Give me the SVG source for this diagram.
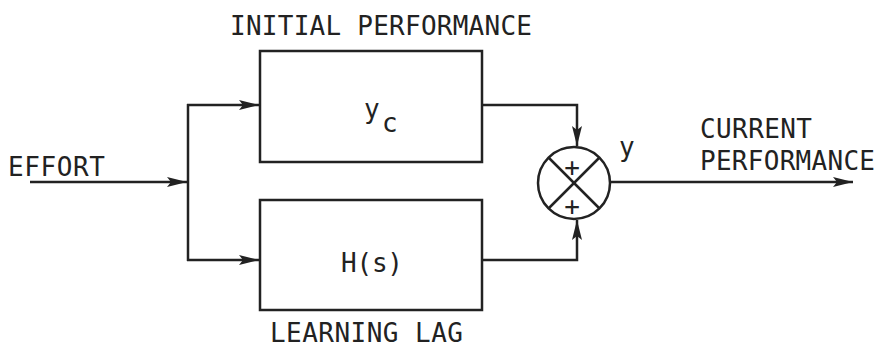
<svg xmlns="http://www.w3.org/2000/svg" width="883" height="351" viewBox="0 0 883 351">
<style>
.ln{fill:none;stroke:#222;stroke-width:2.5}
.bx{fill:none;stroke:#222;stroke-width:2.5}
.t{font-family:"DejaVu Sans Mono","Liberation Mono",monospace;font-size:26px;fill:#222}
</style>
<defs>
<marker id="ah" viewBox="0 0 20 10" refX="20" refY="5" markerWidth="20" markerHeight="10" markerUnits="userSpaceOnUse" orient="auto">
<path d="M0,0 L20,5 L0,10 L4,5 Z" fill="#222"/>
</marker>
</defs>
<rect width="883" height="351" fill="#fff"/>
<g id="connectors">
<line class="ln" x1="30" y1="182" x2="187" y2="182" marker-end="url(#ah)"/>
<line class="ln" x1="188" y1="104" x2="188" y2="261"/>
<line class="ln" x1="187" y1="105" x2="259" y2="105" marker-end="url(#ah)"/>
<line class="ln" x1="187" y1="260" x2="259" y2="260" marker-end="url(#ah)"/>
<polyline class="ln" points="482,105 577,105 577,146" marker-end="url(#ah)"/>
<polyline class="ln" points="482,260 577,260 577,220" marker-end="url(#ah)"/>
<line class="ln" x1="610" y1="182" x2="853" y2="182" marker-end="url(#ah)"/>
</g>
<g id="initial">
<rect class="bx" x="260" y="51" width="222" height="111"/>
<text class="t" x="230" y="35" textLength="302">INITIAL PERFORMANCE</text>
<text class="t" x="364" y="118">y</text>
<text class="t" x="382" y="132">c</text>
</g>
<g id="learning">
<rect class="bx" x="260" y="200" width="222" height="110"/>
<text class="t" x="341" y="272" textLength="62">H(s)</text>
<text class="t" x="270" y="342" textLength="193">LEARNING LAG</text>
</g>
<g id="effort">
<text class="t" x="8" y="176" textLength="97">EFFORT</text>
</g>
<g id="sum">
<circle class="bx" cx="574" cy="183" r="36"/>
<line class="ln" x1="548.5" y1="157.5" x2="599.5" y2="208.5"/>
<line class="ln" x1="599.5" y1="157.5" x2="548.5" y2="208.5"/>
<text class="t" x="572" y="176" text-anchor="middle" font-size="22">+</text>
<text class="t" x="572" y="215" text-anchor="middle" font-size="22">+</text>
<text class="t" x="619" y="156">y</text>
</g>
<g id="output">
<text class="t" x="700" y="138" textLength="112">CURRENT</text>
<text class="t" x="700" y="170" textLength="175">PERFORMANCE</text>
</g>
</svg>
